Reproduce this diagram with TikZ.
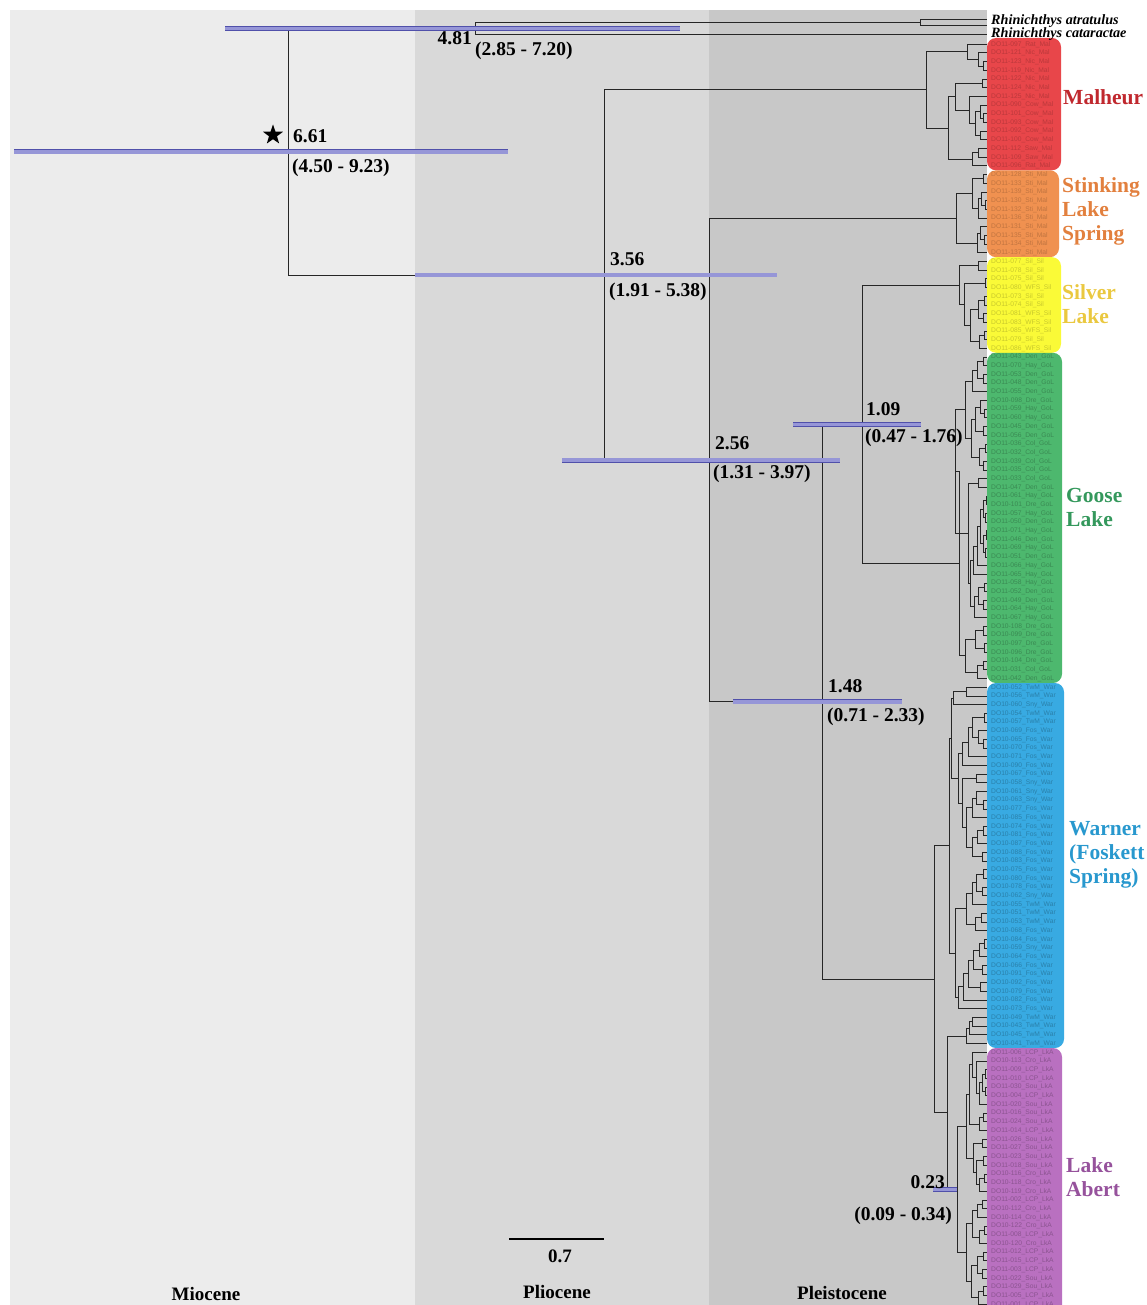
\documentclass[tikz,border=0pt]{standalone}
\usepackage{fontspec}
\setmainfont{Liberation Serif}
\newfontfamily\tipfont{Liberation Sans}
\usepackage{tikz}
\usetikzlibrary{shapes.geometric}
\definecolor{mioF}{RGB}{236,236,236}
\definecolor{plioF}{RGB}{217,217,217}
\definecolor{pleiF}{RGB}{200,200,200}
\definecolor{malF}{RGB}{232,70,74}
\definecolor{stkF}{RGB}{240,145,80}
\definecolor{silF}{RGB}{250,250,55}
\definecolor{gooF}{RGB}{77,184,110}
\definecolor{warF}{RGB}{56,170,226}
\definecolor{abeF}{RGB}{185,112,192}
\definecolor{malT}{RGB}{192,40,46}
\definecolor{stkT}{RGB}{226,128,62}
\definecolor{silT}{RGB}{234,200,64}
\definecolor{gooT}{RGB}{52,152,92}
\definecolor{warT}{RGB}{40,152,206}
\definecolor{abeT}{RGB}{150,82,156}
\definecolor{hpdF}{RGB}{150,150,215}
\definecolor{hpdL}{RGB}{80,80,170}
\tikzset{
  branch/.style={line width=1pt, black!85},
  hpd/.style={double=hpdF, double distance=3.6pt, draw=hpdL, line width=0.6pt},
  tiplab/.style={anchor=west, inner sep=0pt, xshift=4pt, font=\tipfont\fontsize{6.7}{7}\selectfont},
  outlab/.style={anchor=west, inner sep=0pt, font=\bfseries\itshape\fontsize{14.2}{15}\selectfont},
  grouplab/.style={anchor=west, align=left, inner sep=0pt, font=\bfseries\fontsize{21.5}{24}\selectfont},
  agelab/.style={inner sep=0pt, font=\bfseries\fontsize{19.5}{20}\selectfont},
  eralab/.style={inner sep=0pt, font=\bfseries\fontsize{19}{20}\selectfont},
  groupbox/.style={rounded corners=9pt}
}
% parent node at x, halfway between two children
\newcommand{\joinnode}[4]{%
  \path (#3) -- (#4) coordinate[pos=.5] (#1m);
  \coordinate (#1) at (#2,0 |- #1m);
  \draw[branch] (#1) |- (#3) (#1) |- (#4);
}

\begin{document}
\begin{tikzpicture}[x=1pt, y=-1pt]
    \useasboundingbox (0,0) rectangle (1147,1305);
    % Epochs
    \fill[mioF] (10,10) rectangle (415,1305);
    \fill[plioF] (415,10) rectangle (709,1305);
    \fill[pleiF] (709,10) rectangle (987,1305);

    % Population boxes
    \fill[malF, groupbox] (987,38) rectangle (1061,170.3);
    \fill[stkF, groupbox] (987,170.3) rectangle (1059,257.2);
    \fill[silF, groupbox] (987,257.2) rectangle (1061,352.8);
    \fill[gooF, groupbox] (987,352.8) rectangle (1062,683);
    \fill[warF, groupbox] (987,683) rectangle (1064,1048);
    \fill[abeF, groupbox] (987,1048) rectangle (1062,1320);

    % Tips
    \foreach \i in {0,...,145} {\coordinate (t\i) at (987,{44.3+8.69*\i});}
    \coordinate (oa1) at (987,19.3);
    \coordinate (oa2) at (987,26);
    \coordinate (ocat) at (987,34.7);

    % Outgroup
    \joinnode{atr}{920.7}{oa1}{oa2}
    \joinnode{og}{475}{atr}{ocat}

    % Malheur
    \joinnode{ma1}{983}{t2}{t3}
    \joinnode{ma2}{978}{t1}{ma1}
    \joinnode{maA}{967}{t0}{ma2}
    \joinnode{mb1}{982}{t4}{t5}
    \joinnode{mc1}{983}{t8}{t9}
    \joinnode{mc2}{980}{t7}{mc1}
    \joinnode{mc3}{980}{t10}{t11}
    \joinnode{mc4}{975}{mc2}{mc3}
    \joinnode{mc5}{969}{t6}{mc4}
    \joinnode{mB1}{955}{mb1}{mc5}
    \joinnode{md1}{978}{t12}{t13}
    \joinnode{md2}{972}{md1}{t14}
    \joinnode{maB}{948}{mB1}{md2}
    \joinnode{mal}{926}{maA}{maB}

    % Stinking Lake Spring
    \joinnode{s1}{983}{t15}{t16}
    \joinnode{s2}{985}{t18}{t19}
    \joinnode{s3}{981}{t17}{s2}
    \joinnode{s4}{978}{s3}{t20}
    \joinnode{s5}{972}{s1}{s4}
    \joinnode{s6}{984}{t22}{t23}
    \joinnode{s7}{980}{t21}{s6}
    \joinnode{s8}{977}{s7}{t24}
    \joinnode{stk}{956}{s5}{s8}

    % Silver Lake
    \joinnode{l1}{978}{t25}{t26}
    \joinnode{l2}{985}{t27}{t28}
    \joinnode{l3}{984}{t29}{t30}
    \joinnode{l4}{983}{t31}{t32}
    \joinnode{l5}{978}{l3}{l4}
    \joinnode{l6}{984}{t33}{t34}
    \joinnode{l7}{979}{l6}{t35}
    \joinnode{l8}{970}{l5}{l7}
    \joinnode{l9}{964}{l2}{l8}
    \joinnode{sil}{959}{l1}{l9}

    % Goose Lake
    \joinnode{g1a}{983}{t36}{t37}
    \joinnode{g1b}{983}{t38}{t39}
    \joinnode{g1c}{977}{g1a}{g1b}
    \joinnode{g1}{972}{g1c}{t40}
    \joinnode{g2a}{984}{t42}{t43}
    \joinnode{g2b}{980}{t41}{g2a}
    \joinnode{g2c}{983}{t44}{t45}
    \joinnode{g2d}{975}{g2b}{g2c}
    \joinnode{g2e}{985}{t46}{t47}
    \joinnode{g2f}{983}{t48}{t49}
    \joinnode{g2g}{979}{g2e}{g2f}
    \joinnode{g2}{971}{g2d}{g2g}
    \joinnode{gA1}{965}{g1}{g2}
    \joinnode{ga}{978}{t50}{t51}
    \joinnode{gc1}{986}{t52}{t53}
    \joinnode{gc2}{985}{t54}{t55}
    \joinnode{gc3}{983}{gc1}{gc2}
    \joinnode{gc4}{986}{t56}{t57}
    \joinnode{gc5}{985}{t58}{t59}
    \joinnode{gc6}{983}{gc4}{gc5}
    \joinnode{gc7}{980}{gc3}{gc6}
    \joinnode{gc8}{977}{gc7}{t60}
    \joinnode{gc9}{973}{gc8}{t61}
    \joinnode{gd1}{984}{t62}{t63}
    \joinnode{gd2}{983}{t64}{t65}
    \joinnode{gd3}{978}{gd1}{gd2}
    \joinnode{gd4}{974}{gd3}{t66}
    \joinnode{gb}{970}{gc9}{gd4}
    \joinnode{gA2}{968}{ga}{gb}
    \joinnode{gA}{955.7}{gA1}{gA2}
    \joinnode{gB1}{983}{t67}{t68}
    \joinnode{gB2}{984}{t69}{t70}
    \joinnode{gB3}{975}{gB1}{gB2}
    \joinnode{gB4}{983}{t71}{t72}
    \joinnode{gB5}{977}{gB4}{t73}
    \joinnode{gB}{965}{gB3}{gB5}
    \joinnode{goo}{959}{gA}{gB}

    % Warner (Foskett Spring)
    \joinnode{w1}{966}{t74}{t75}
    \joinnode{wA}{953}{w1}{t76}
    \joinnode{w2}{984}{t77}{t78}
    \joinnode{w3}{983}{t80}{t81}
    \joinnode{w4}{978}{t79}{w3}
    \joinnode{w5}{972}{w2}{w4}
    \joinnode{w6}{968}{w5}{t82}
    \joinnode{w7}{962}{w6}{t83}
    \joinnode{w8}{976}{t84}{t85}
    \joinnode{w9}{983}{t87}{t88}
    \joinnode{w10}{976}{t86}{w9}
    \joinnode{w11}{972}{w10}{t89}
    \joinnode{w12}{983}{t90}{t91}
    \joinnode{w13}{977}{w12}{t92}
    \joinnode{w14}{982}{t93}{t94}
    \joinnode{w15}{972}{w13}{w14}
    \joinnode{w16}{966}{w11}{w15}
    \joinnode{w17}{962}{w8}{w16}
    \joinnode{wB}{958}{w7}{w17}
    \joinnode{wC}{951}{wA}{wB}
    \joinnode{w18}{983}{t95}{t96}
    \joinnode{w19}{982}{t97}{t98}
    \joinnode{w20}{976}{w18}{w19}
    \joinnode{w21}{972}{t99}{w20}
    \joinnode{w22}{981}{t100}{t101}
    \joinnode{w23}{975}{w22}{t102}
    \joinnode{w24}{966}{w21}{w23}
    \joinnode{w25}{984}{t103}{t104}
    \joinnode{w26}{979}{w25}{t105}
    \joinnode{w27}{982}{t106}{t107}
    \joinnode{w28}{973}{w26}{w27}
    \joinnode{w29}{980}{t108}{t109}
    \joinnode{w30}{968}{w28}{w29}
    \joinnode{w31}{963}{w30}{t110}
    \joinnode{w32}{958}{w31}{t111}
    \joinnode{wD}{955}{w24}{w32}
    \joinnode{war}{949}{wC}{wD}
    \joinnode{we}{972}{t112}{t113}
    \joinnode{wf}{969}{we}{t114}
    \joinnode{wb}{966}{wf}{t115}

    % Lake Abert
    \joinnode{a1}{985}{t118}{t119}
    \joinnode{a2}{985}{t120}{t121}
    \joinnode{a3}{982}{a1}{a2}
    \joinnode{a4}{979}{a3}{t122}
    \joinnode{a5}{976}{t117}{a4}
    \joinnode{a6}{972}{t116}{a5}
    \joinnode{a7}{983}{t123}{t124}
    \joinnode{a8}{979}{a7}{t125}
    \joinnode{aT}{969}{a6}{a8}
    \joinnode{a9}{982}{t126}{t127}
    \joinnode{a11}{983}{t128}{t129}
    \joinnode{a12}{984}{t130}{t131}
    \joinnode{a13}{979}{a12}{t132}
    \joinnode{a14}{976}{a11}{a13}
    \joinnode{aM}{973}{a9}{a14}
    \joinnode{abT}{966}{aT}{aM}
    \joinnode{ab1}{982}{t133}{t134}
    \joinnode{ab2}{977}{ab1}{t135}
    \joinnode{ab3}{984}{t136}{t137}
    \joinnode{ab4}{979}{ab3}{t138}
    \joinnode{ab5}{972}{ab2}{ab4}
    \joinnode{ab6}{983}{t139}{t140}
    \joinnode{ab7}{982}{t141}{t142}
    \joinnode{ab8}{977}{ab6}{ab7}
    \joinnode{ab9}{983}{t143}{t144}
    \joinnode{ab10}{978}{ab9}{t145}
    \joinnode{ab11}{971}{ab8}{ab10}
    \joinnode{abB}{966}{ab5}{ab11}
    \joinnode{abe}{957}{abT}{abB}

    % Deep nodes
    \joinnode{wax}{947}{wb}{abe}
    \joinnode{wa}{934}{war}{wax}
    \joinnode{n109}{862}{sil}{goo}
    \joinnode{n148}{822}{n109}{wa}
    \joinnode{n256}{709}{stk}{n148}
    \joinnode{n356}{604}{mal}{n256}
    \joinnode{root}{288}{og}{n356}

    % HPD bars
    \draw[hpd] (14,0 |- root) -- (508,0 |- root);
    \draw[hpd] (225,0 |- og) -- (680,0 |- og);
    \draw[hpd] (415,0 |- n356) -- (777,0 |- n356);
    \draw[hpd] (562,0 |- n256) -- (840,0 |- n256);
    \draw[hpd] (733,0 |- n148) -- (902,0 |- n148);
    \draw[hpd] (793,0 |- n109) -- (921,0 |- n109);
    \draw[hpd] (933,0 |- abe) -- (957,0 |- abe);

    % Node ages
    \node[star, star points=5, star point ratio=2.5, fill=black, inner sep=0pt, minimum size=21pt] (star) at (273,135) {};
    \node[agelab, anchor=west] (lab661) at (293,136) {6.61};
    \node[agelab, anchor=west] (ci661) at (292,168) {(4.50 - 9.23)};
    \node[agelab, anchor=east] (lab481) at (472,38) {4.81};
    \node[agelab, anchor=west] (ci481) at (475,51) {(2.85 - 7.20)};
    \node[agelab, anchor=west] (lab356) at (610,259) {3.56};
    \node[agelab, anchor=west] (ci356) at (609,292) {(1.91 - 5.38)};
    \node[agelab, anchor=west] (lab256) at (715,443) {2.56};
    \node[agelab, anchor=west] (ci256) at (713,474) {(1.31 - 3.97)};
    \node[agelab, anchor=west] (lab148) at (828,686) {1.48};
    \node[agelab, anchor=west] (ci148) at (827,717) {(0.71 - 2.33)};
    \node[agelab, anchor=west] (lab109) at (866,409) {1.09};
    \node[agelab, anchor=west] (ci109) at (865,438) {(0.47 - 1.76)};
    \node[agelab, anchor=east] (lab023) at (945,1182) {0.23};
    \node[agelab, anchor=east] (ci023) at (952,1216) {(0.09 - 0.34)};

    % Tip labels
    \node[outlab] (latr) at (991,21.6) {Rhinichthys atratulus};
    \node[outlab] (lcat) at (991,34.6) {Rhinichthys cataractae};
    \foreach \id/\site [count=\k from 0] in {DO11-097/Rat, DO11-121/Nic, DO11-123/Nic, DO11-119/Nic, DO11-122/Nic, DO11-124/Nic, DO11-125/Nic, DO11-090/Cow, DO11-101/Cow, DO11-093/Cow, DO11-092/Cow, DO11-100/Cow, DO11-112/Saw, DO11-109/Saw, DO11-096/Rat}
      {\node[tiplab, text=malF!80!black] (lab\k) at (t\k) {\id\_\site\_Mal};}
    \foreach \id/\site [count=\k from 15] in {DO11-128/Sti, DO11-133/Sti, DO11-139/Sti, DO11-130/Sti, DO11-132/Sti, DO11-136/Sti, DO11-131/Sti, DO11-135/Sti, DO11-134/Sti, DO11-137/Sti}
      {\node[tiplab, text=stkF!80!black] (lab\k) at (t\k) {\id\_\site\_Mal};}
    \foreach \id/\site [count=\k from 25] in {DO11-077/Sil, DO11-078/Sil, DO11-075/Sil, DO11-080/WFS, DO11-073/Sil, DO11-074/Sil, DO11-081/WFS, DO11-083/WFS, DO11-085/WFS, DO11-079/Sil, DO11-086/WFS}
      {\node[tiplab, text=silF!80!black] (lab\k) at (t\k) {\id\_\site\_Sil};}
    \foreach \id/\site [count=\k from 36] in {DO11-043/Den, DO11-070/Hay, DO11-053/Den, DO11-048/Den, DO11-055/Den, DO10-098/Dre, DO11-059/Hay, DO11-060/Hay, DO11-045/Den, DO11-056/Den, DO11-036/Col, DO11-032/Col, DO11-039/Col, DO11-035/Col, DO11-033/Col, DO11-047/Den, DO11-061/Hay, DO10-101/Dre, DO11-057/Hay, DO11-050/Den, DO11-071/Hay, DO11-046/Den, DO11-069/Hay, DO11-051/Den, DO11-066/Hay, DO11-065/Hay, DO11-058/Hay, DO11-052/Den, DO11-049/Den, DO11-064/Hay, DO11-067/Hay, DO10-108/Dre, DO10-099/Dre, DO10-097/Dre, DO10-096/Dre, DO10-104/Dre, DO11-031/Col, DO11-042/Den}
      {\node[tiplab, text=gooF!75!black] (lab\k) at (t\k) {\id\_\site\_GoL};}
    \foreach \id/\site [count=\k from 74] in {DO10-052/TwM, DO10-056/TwM, DO10-060/Sny, DO10-054/TwM, DO10-057/TwM, DO10-069/Fos, DO10-065/Fos, DO10-070/Fos, DO10-071/Fos, DO10-090/Fos, DO10-067/Fos, DO10-058/Sny, DO10-061/Sny, DO10-063/Sny, DO10-077/Fos, DO10-085/Fos, DO10-074/Fos, DO10-081/Fos, DO10-087/Fos, DO10-088/Fos, DO10-083/Fos, DO10-075/Fos, DO10-080/Fos, DO10-078/Fos, DO10-062/Sny, DO10-055/TwM, DO10-051/TwM, DO10-053/TwM, DO10-068/Fos, DO10-084/Fos, DO10-059/Sny, DO10-064/Fos, DO10-066/Fos, DO10-091/Fos, DO10-092/Fos, DO10-079/Fos, DO10-082/Fos, DO10-073/Fos, DO10-049/TwM, DO10-043/TwM, DO10-045/TwM, DO10-041/TwM}
      {\node[tiplab, text=warF!75!black] (lab\k) at (t\k) {\id\_\site\_War};}
    \foreach \id/\site [count=\k from 116] in {DO11-006/LCP, DO10-113/Cro, DO11-009/LCP, DO11-010/LCP, DO11-030/Sou, DO11-004/LCP, DO11-020/Sou, DO11-016/Sou, DO11-024/Sou, DO11-014/LCP, DO11-026/Sou, DO11-027/Sou, DO11-023/Sou, DO11-018/Sou, DO10-116/Cro, DO10-118/Cro, DO10-119/Cro, DO11-002/LCP, DO10-112/Cro, DO10-114/Cro, DO10-122/Cro, DO11-008/LCP, DO10-120/Cro, DO11-012/LCP, DO11-015/LCP, DO11-003/LCP, DO11-022/Sou, DO11-029/Sou, DO11-005/LCP, DO11-001/LCP}
      {\node[tiplab, text=abeF!75!black] (lab\k) at (t\k) {\id\_\site\_LkA};}

    % Population names
    \node[grouplab, text=malT] (gmal) at (1063,97) {Malheur};
    \node[grouplab, text=stkT] (gstk) at (1062,211.5) {Stinking\\Lake\\Spring};
    \node[grouplab, text=silT] (gsil) at (1062,304.5) {Silver\\Lake};
    \node[grouplab, text=gooT] (ggoo) at (1066,507.5) {Goose\\Lake};
    \node[grouplab, text=warT] (gwar) at (1069,855) {Warner\\(Foskett\\Spring)};
    \node[grouplab, text=abeT] (gabe) at (1066,1177) {Lake\\Abert};

    % Scale bar and epochs
    \coordinate (sb1) at (509,1239);
    \coordinate (sb2) at (604,1239);
    \draw[line width=2.5pt] (sb1) -- (sb2);
    \node[eralab] (sblab) at (560,1256) {0.7};
    \node[eralab] (mio) at (206,1294) {Miocene};
    \node[eralab] (plio) at (557,1292) {Pliocene};
    \node[eralab] (plei) at (842,1293) {Pleistocene};
\end{tikzpicture}
\end{document}
